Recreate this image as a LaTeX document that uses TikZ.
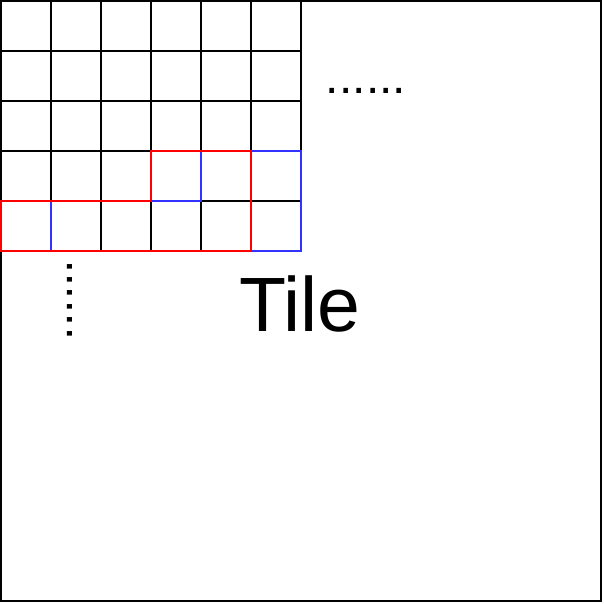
\documentclass[tikz,border=0pt]{standalone}
\usepackage{fontspec}
\setmainfont{Liberation Sans}

\begin{document}
\begin{tikzpicture}[
  x=1pt, y=-1pt,
  cell/.style   = {line width=1.6pt, black},
  redpath/.style  = {line width=1.8pt, draw=red},
  bluepath/.style = {line width=1.6pt, draw={rgb,255:red,51;green,51;blue,255}},
  dots/.style   = {inner sep=0pt, font=\fontsize{48}{48}\selectfont},
  title/.style  = {inner sep=0pt, anchor=base, font=\fontsize{77}{77}\selectfont},
]
  \useasboundingbox (0,0) rectangle (604,604);

  % the whole tile
  \draw[cell] (1,1) rectangle (601,601);

  % the pixel grid: 6 columns, 5 rows
  \foreach \x in {51,101,...,301}
    \draw[cell] (\x,1) -- (\x,251);
  \foreach \y in {51,101,...,251}
    \draw[cell] (1,\y) -- (301,\y);

  % blue blocks
  \draw[bluepath] (51,201) -- (51,251);
  \draw[bluepath] (151,201) -- (201,201) -- (201,151);
  \draw[bluepath] (251,151) -- (301,151) -- (301,251) -- (251,251);

  % red block outline
  \draw[redpath] (1,201) -- (151,201) -- (151,151) -- (251,151)
    -- (251,251) -- (1,251) -- cycle;

  \node[dots] (hdots) at (366,91) {......};
  \node[dots, rotate=90] (vdots) at (70,300) {......};
  \node[title] (tile) at (300,331) {Tile};
\end{tikzpicture}
\end{document}
